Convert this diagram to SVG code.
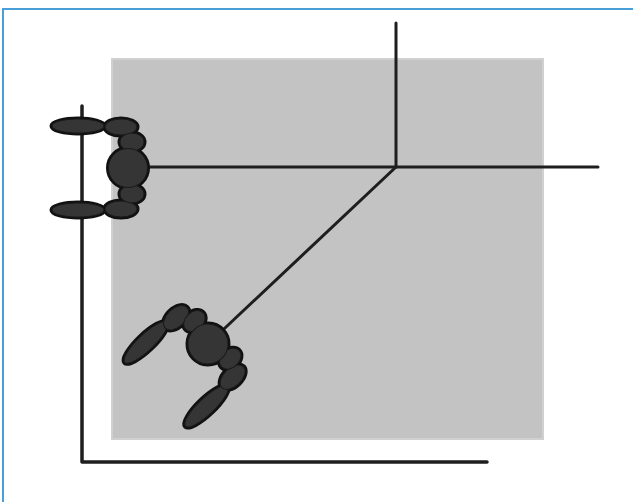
<svg xmlns="http://www.w3.org/2000/svg" xmlns:xlink="http://www.w3.org/1999/xlink" width="633" height="502" viewBox="0 0 633 502">
<style>
.frame{fill:none;stroke:#4a9fd8;stroke-width:2}
.floor{fill:#c3c3c3;stroke:#d0d0d0;stroke-width:2}
.wall{fill:none;stroke:#1e1e1e;stroke-width:3.5;stroke-linecap:round;stroke-linejoin:round}
.link{fill:none;stroke:#1e1e1e;stroke-width:3;stroke-linecap:round}
.outline{fill:#111;stroke:#111;stroke-width:5}
.fill{fill:#353535;stroke:#1a1a1a;stroke-width:1}
</style>
<defs>
<g id="shapeA">
<ellipse cx="-50" cy="-42" rx="26" ry="7"/>
<ellipse cx="-50" cy="42" rx="26" ry="7"/>
<ellipse cx="-7" cy="-41" rx="16" ry="8"/>
<ellipse cx="-7" cy="41" rx="16" ry="8"/>
<ellipse cx="4" cy="-26" rx="12" ry="9"/>
<ellipse cx="4" cy="26" rx="12" ry="9"/>
<circle cx="0" cy="0" r="19.5"/>
</g>
<g id="shapeB">
<ellipse cx="-44" cy="-44" rx="29" ry="8"/>
<ellipse cx="-44" cy="44" rx="29" ry="8"/>
<ellipse cx="-5" cy="-41" rx="15" ry="9"/>
<ellipse cx="-5" cy="41" rx="15" ry="9"/>
<ellipse cx="6" cy="-26" rx="12" ry="9"/>
<ellipse cx="6" cy="26" rx="12" ry="9"/>
<circle cx="0" cy="0" r="20"/>
</g>
</defs>
<path class="frame" d="M3,502 V9 H633"/>
<rect id="floor" class="floor" x="112" y="59" width="431" height="380"/>
<g id="walls">
<path class="wall" d="M82,106 V462 H487"/>
</g>
<g id="connectors">
<line class="link" x1="396" y1="23" x2="396" y2="167"/>
<line class="link" x1="148" y1="167" x2="598" y2="167"/>
<line class="link" x1="396" y1="167" x2="208" y2="344"/>
</g>
<g id="person1" transform="translate(128,168)">
<use xlink:href="#shapeA" class="outline"/>
<use xlink:href="#shapeA" class="fill"/>
</g>
<g id="person2" transform="translate(208,344) rotate(-43.6)">
<use xlink:href="#shapeB" class="outline"/>
<use xlink:href="#shapeB" class="fill"/>
</g>
</svg>
